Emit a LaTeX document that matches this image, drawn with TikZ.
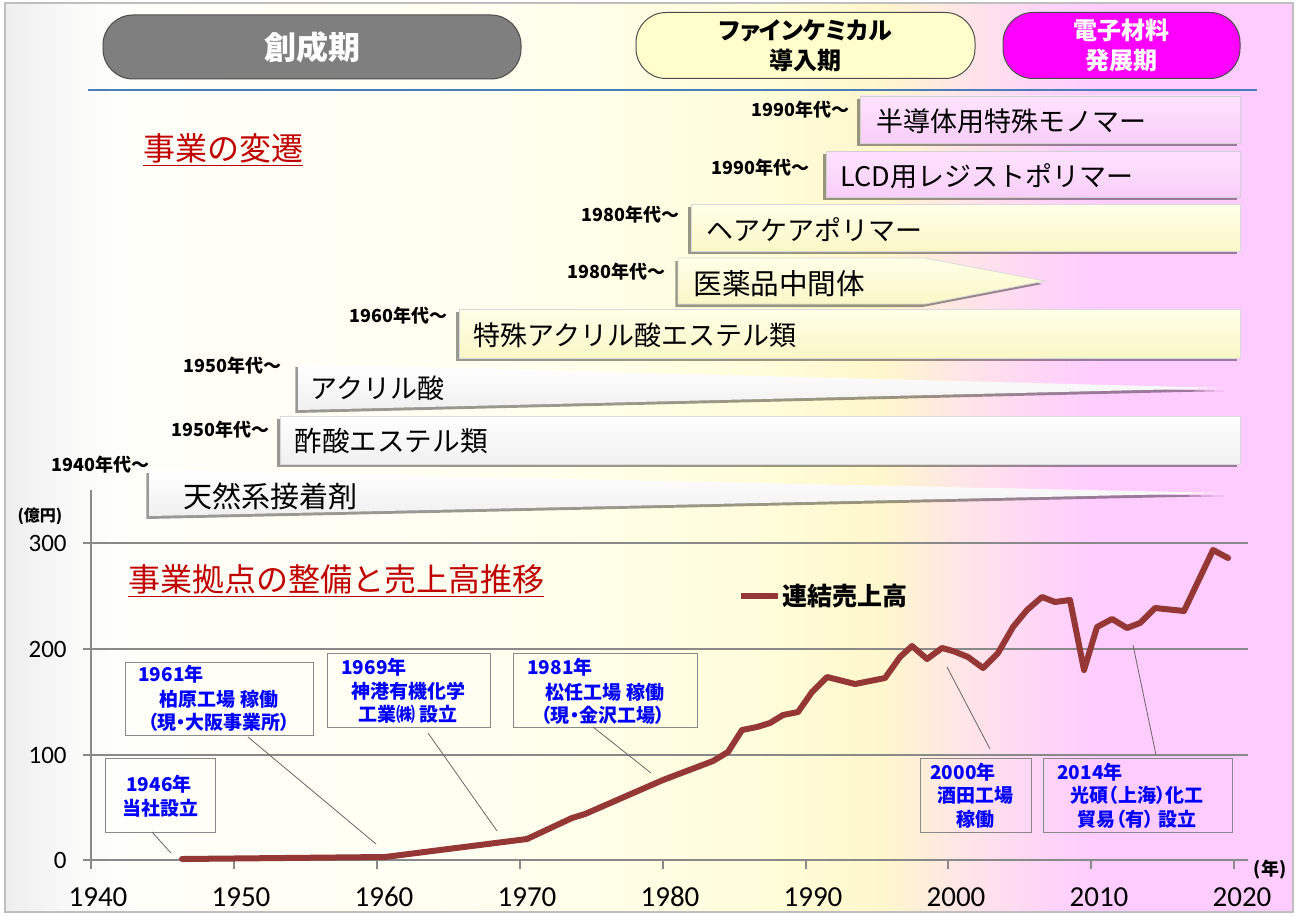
\documentclass[tikz,border=0pt]{standalone}
\usepackage{fontspec}
\newfontfamily\jp{Noto Sans CJK JP}
\newfontfamily\jpp{Noto Sans CJK JP}[RawFeature=+palt]
\newfontfamily\calfont{Carlito}
\usetikzlibrary{shadows}
\newcommand\fsz[1]{\fontsize{#1}{#1}\selectfont}
\definecolor{bgA}{HTML}{EEEEEE}
\definecolor{bgB}{HTML}{F9F9F9}
\definecolor{bgC}{HTML}{FFFFFA}
\definecolor{bgD}{HTML}{FFFFF0}
\definecolor{bgE}{HTML}{FFFDDB}
\definecolor{bgF}{HTML}{FFF7CC}
\definecolor{bgG}{HTML}{FFE6E6}
\definecolor{bgH}{HTML}{FFD6F6}
\definecolor{bgI}{HTML}{FFCCFF}
\definecolor{framec}{HTML}{BFBFBF}
\definecolor{gridc}{HTML}{898989}
\definecolor{salesc}{HTML}{953735}
\definecolor{titlered}{HTML}{C00000}
\definecolor{callblue}{HTML}{0000FF}
\definecolor{rulec}{HTML}{4A7EBB}
\definecolor{phasegray}{HTML}{7F7F7F}
\definecolor{phaseyel}{HTML}{FFFFCC}
\definecolor{phasemag}{HTML}{FF00FF}
\definecolor{pinkT}{HTML}{FFE3FF}
\definecolor{pinkB}{HTML}{F8CEF8}
\definecolor{yelT}{HTML}{FFFFE8}
\definecolor{yelB}{HTML}{FAF7C6}
\definecolor{whtT}{HTML}{FFFFFF}
\definecolor{whtB}{HTML}{F0F0F0}
\pgfdeclarehorizontalshading{bgshade}{100bp}{color(0bp)=(bgA); color(25bp)=(bgA); color(27.5bp)=(bgB); color(30bp)=(bgC); color(44bp)=(bgD); color(54bp)=(bgE); color(59bp)=(bgF); color(62bp)=(bgG); color(65bp)=(bgH); color(67.5bp)=(bgI); color(75bp)=(bgI); color(100bp)=(bgI)}
\tikzset{
  phase/.style={draw=black!70, line width=0.5pt, rounded corners=15pt, align=center, inner sep=0pt, font=\jpp\bfseries\fsz{12}},
  shad/.style={drop shadow={shadow xshift=-1.3pt, shadow yshift=-1.5pt, fill=black, opacity=0.4}},
  barpink/.style={shad, top color=pinkT, bottom color=pinkB, draw=black!18, line width=0.4pt},
  baryel/.style={shad, top color=yelT, bottom color=yelB, draw=black!15, line width=0.4pt},
  barwht/.style={shad, top color=whtT, middle color=whtT, bottom color=whtB},
  prod/.style={anchor=west, inner sep=0pt, font=\jp\fsz{13.5}},
  decade/.style={anchor=east, inner sep=0pt, font=\jp\bfseries\fsz{9}},
  redtitle/.style={anchor=west, inner sep=0pt, text=titlered, font=\jp\fsz{16}},
  gridl/.style={draw=gridc, line width=0.6pt},
  ticklab/.style={inner sep=0pt, font=\calfont\fsz{14.5}},
  ylab/.style={anchor=east, inner sep=0pt, font=\calfont\fsz{12.5}},
  salesline/.style={draw=salesc, line width=3pt, line join=round, line cap=round},
  callbox/.style={draw=gridc, line width=0.5pt, inner sep=0pt},
  calltext/.style={inner sep=0pt, text=callblue, font=\jpp\bfseries\fsz{9.5}},
  leader/.style={draw=black!60, line width=0.4pt}
}
\begin{document}
\begin{tikzpicture}[x=0.5pt,y=-0.5pt]
\useasboundingbox (0,0) rectangle (1299,915);
% background
\path[shading=bgshade, draw=framec, line width=0.8pt] (5,3) rectangle (1293,912);
% phases
\node[phase, fill=phasegray, text=white, minimum width=209pt, minimum height=32pt, font=\jpp\bfseries\fsz{16}] (ph1) at (312,47) {創成期};
\node[phase, fill=phaseyel, minimum width=169.5pt, minimum height=33pt] (ph2) at (805.5,45.5) {ファインケミカル\\[3pt]導入期};
\node[phase, fill=phasemag, text=white, minimum width=118.5pt, minimum height=33pt] (ph3) at (1121.5,45.5) {電子材料\\[3pt]発展期};
\coordinate (ruleL) at (88,90);
\coordinate (ruleR) at (1257,90);
\draw[rulec, line width=1pt] (ruleL) -- (ruleR);
% title
\node[redtitle] (t1) at (143,150) {\underline{事業の変遷}};
% bars
\path[barpink] (860,96) rectangle (1240,143);
\path[barpink] (826,151) rectangle (1240,197);
\path[baryel] (691,204) rectangle (1240,251);
\path[baryel] (678,258) -- (925,258) -- (1045,281) -- (925,304) -- (678,304) -- cycle;
\path[baryel] (459,309) rectangle (1240,358);
\path[barwht] (298,364) -- (1227,388) -- (298,410) -- cycle;
\path[barwht, draw=black!15, line width=0.4pt] (280,416) rectangle (1240,464);
\path[barwht] (149,470) -- (1227,493) -- (149,516) -- cycle;
% product names
\node[prod] (p1) at (876,121) {半導体用特殊モノマー};
\node[prod] (p2) at (840,176) {LCD用レジストポリマー};
\node[prod] (p3) at (706,230) {ヘアケアポリマー};
\node[prod, font=\jp\fsz{14.3}] (p4) at (693,284) {医薬品中間体};
\node[prod] (p5) at (473,335) {特殊アクリル酸エステル類};
\node[prod] (p6) at (310,388) {アクリル酸};
\node[prod, font=\jp\fsz{13.8}] (p7) at (294,441) {酢酸エステル類};
\node[prod, font=\jp\fsz{14.5}] (p8) at (183,496) {天然系接着剤};
% decades
\node[decade] (d1) at (850,110) {1990年代～};
\node[decade] (d2) at (810,168) {1990年代～};
\node[decade] (d3) at (680,215) {1980年代～};
\node[decade] (d4) at (666,272) {1980年代～};
\node[decade] (d5) at (448,316) {1960年代～};
\node[decade] (d6) at (282,366) {1950年代～};
\node[decade] (d7) at (270,430) {1950年代～};
\node[decade] (d8) at (150,465) {1940年代～};
% chart grid
\foreach \yy in {543,649,755} {\draw[gridl] (83,\yy) -- (1248,\yy);}
\draw[gridl, line width=1pt] (91,490) -- (91,869);
\draw[gridl, line width=1pt] (83,860) -- (1248,860);
\foreach \xx in {234,377,520,663,806,948,1091,1234} {\draw[gridl, line width=1pt] (\xx,860) -- (\xx,869);}
\foreach \yr [count=\i from 0] in {1940,1950,1960,1970,1980,1990,2000,2010,2020} {
  \node[ticklab] (x\yr) at (98+143*\i,897) {\yr};
}
\node[ylab] (y300) at (67,543) {300};
\node[ylab] (y200) at (67,649) {200};
\node[ylab] (y100) at (67,755) {100};
\node[ylab] (y0) at (67,860) {0};
\node[inner sep=0pt, font=\jpp\bfseries\fsz{8}] (unitY) at (40,516) {(億円)};
\node[inner sep=0pt, font=\jpp\bfseries\fsz{9}] (unitX) at (1270,870) {(年)};
\node[redtitle] (t2) at (128,581) {\underline{事業拠点の整備と売上高推移}};
% legend
\coordinate (legA) at (741,596);
\coordinate (legB) at (778,596);
\draw[salesline, line cap=butt] (legA) -- (legB);
\node[anchor=west, inner sep=0pt, font=\jp\bfseries\fsz{12.5}] (leg) at (782,596) {連結売上高};
% sales
\draw[salesline] plot coordinates {(182,859) (385,857) (527,839) (572,818) (585,814) (663,780) (713,761) (728,752) (742,730) (757,727) (770,723) (783,715) (798,712) (812,692) (827,677) (855,684) (870,681) (885,678) (900,657) (912,646) (927,659) (942,648) (953,651) (968,657) (983,668) (998,653) (1013,627) (1027,610) (1042,597) (1055,602) (1070,600) (1084,670) (1097,627) (1112,619) (1127,628) (1140,623) (1155,608) (1184,611) (1213,550) (1228,558)};
% callouts
\node[callbox, minimum width=55pt, minimum height=37pt] (c1946) at (160,795) {};
\node[calltext] (c1946a) at (159,784) {1946年};
\node[calltext] (c1946b) at (160,808) {当社設立};
\coordinate (e1946a) at (152,832); \coordinate (e1946b) at (171,853);
\draw[leader] (e1946a) -- (e1946b);

\node[callbox, minimum width=94pt, minimum height=36.5pt] (c1961) at (219,698.5) {};
\node[calltext, anchor=west] (c1961a) at (138,674) {1961年};
\node[calltext] (c1961b) at (219,699) {柏原工場 稼働};
\node[calltext] (c1961c) at (219,722) {（現・大阪事業所）};
\coordinate (e1961a) at (248,737); \coordinate (e1961b) at (376,844);
\draw[leader] (e1961a) -- (e1961b);

\node[callbox, minimum width=81.5pt, minimum height=37pt] (c1969) at (408.5,690) {};
\node[calltext, anchor=west] (c1969a) at (341,667) {1969年};
\node[calltext] (c1969b) at (408,691) {神港有機化学};
\node[calltext] (c1969c) at (408,714) {工業㈱ 設立};
\coordinate (e1969a) at (428,733); \coordinate (e1969b) at (497,831);
\draw[leader] (e1969a) -- (e1969b);

\node[callbox, minimum width=92pt, minimum height=37pt] (c1981) at (605,690) {};
\node[calltext, anchor=west] (c1981a) at (527,667) {1981年};
\node[calltext] (c1981b) at (605,692) {松任工場 稼働};
\node[calltext] (c1981c) at (603,715) {（現・金沢工場）};
\coordinate (e1981a) at (593,727); \coordinate (e1981b) at (651,773);
\draw[leader] (e1981a) -- (e1981b);

\node[callbox, minimum width=55.5pt, minimum height=37pt] (c2000) at (975.5,795) {};
\node[calltext] (c2000a) at (963,772) {2000年};
\node[calltext] (c2000b) at (975,795) {酒田工場};
\node[calltext] (c2000c) at (975,819) {稼働};
\coordinate (e2000a) at (947,667); \coordinate (e2000b) at (990,749);
\draw[leader] (e2000a) -- (e2000b);

\node[callbox, minimum width=94.5pt, minimum height=37pt] (c2014) at (1137.5,795) {};
\node[calltext, anchor=west] (c2014a) at (1057,772) {2014年};
\node[calltext] (c2014b) at (1137,795) {光碩（上海）化工};
\node[calltext] (c2014c) at (1137,819) {貿易（有） 設立};
\coordinate (e2014a) at (1133,645); \coordinate (e2014b) at (1156,755);
\draw[leader] (e2014a) -- (e2014b);
\end{tikzpicture}
\end{document}
